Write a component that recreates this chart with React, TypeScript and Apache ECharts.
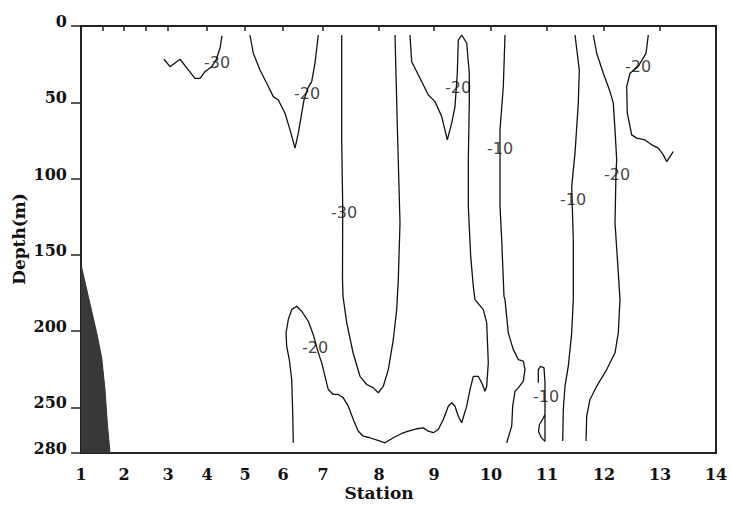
import React, { useEffect, useRef } from "react";
import * as echarts from "echarts";

// Station numbers and their along-section distance (axis units)
const stationNums = [1, 2, 3, 4, 5, 6, 7, 8, 9, 10, 11, 12, 13, 14];
const stationDist = [0, 43, 87, 126, 164, 202, 242, 298, 353, 410, 466, 523, 579, 635];
const minorTickDist = [22, 65];
const depthTicks = [0, 50, 100, 150, 200, 250, 280];

// Bottom topography (distance, depth)
const bottomProfile = [
  [0, 156.5], [7.3, 177.3], [15.7, 201.2], [20.7, 217.6], [24, 238.4], [26.3, 260.2], [29, 280],
];

// Contour lines [distance, depth]
const contourA = [
  [83, 21.8], [89, 26.7], [99, 21.8], [107.3, 28.8], [114, 34.3], [119, 34.3], [124, 29.9],
  [127.3, 28.4], [130.7, 26.7], [135, 22.3], [139, 14.6], [141, 6.5],
];
const contourB = [
  [169, 5.9], [172.3, 17.9], [179, 28.8], [185.7, 37.5], [192.3, 46.3], [197.3, 48.5], [204, 57.2],
  [209, 68.1], [214, 80.1], [217.3, 70.3], [220.7, 57.2], [223, 48.5], [227, 40.6], [230.7, 36.5],
  [234, 24.4], [237.3, 5.9],
];
const contourC = [
  [260.7, 5.9], [260.7, 74.7], [261.7, 118.3], [261.5, 166.3], [262, 177.3], [265.7, 194.5],
  [272, 214.1], [279, 229.7], [285.7, 235.1], [292.3, 237.3], [297.3, 240.5], [302.3, 236.2],
  [307.3, 225.3], [312.3, 205.6], [315.7, 186.0], [317.3, 166.3], [318.5, 140.1], [319, 129.0],
  [316.7, 74.7], [314, 5.9],
];
const contourD = [
  [329, 5.9], [330.7, 23.4], [339, 34.3], [347.3, 45.2], [354, 49.6], [360.7, 59.4], [366.3, 74.7],
  [370.7, 63.7], [374, 52.8], [376.3, 31.0], [377.3, 9.2], [380.7, 5.9], [385.7, 11.3], [388.3, 31.0],
  [388.3, 50.6], [387.3, 87.8], [387.3, 118.3], [389.7, 151.1], [392.3, 170.7], [394, 179.4],
  [402.3, 186.0], [405.7, 194.7], [407.3, 220.9], [405.7, 236.2], [404, 239.5], [400.7, 234.0],
  [397.3, 229.7], [392.3, 229.7], [389, 238.4], [385.7, 249.3], [380.7, 260.2], [377.3, 255.9],
  [374, 249.3], [370.7, 247.1], [367.3, 249.3], [362.3, 258.0], [357.3, 264.6], [352.3, 266.7],
  [347.3, 265.7], [342.3, 263.5], [335.7, 264.1], [327.3, 265.7], [320.7, 267.2], [312.3, 270.0],
  [304, 273.3], [299, 272.2], [289, 270.0], [282.3, 269.0], [277.3, 265.7], [272.3, 258.0],
  [267.3, 249.3], [262.3, 243.8], [257.3, 241.6], [252.3, 241.6], [247.3, 238.4], [244, 229.7],
  [240.7, 220.9], [237.3, 214.3], [232.3, 202.4], [227.3, 193.6], [220.7, 187.1], [215.7, 183.8],
  [210.7, 186.0], [207.3, 192.5], [205, 201.2], [205.7, 210.0], [208.3, 218.7], [210.7, 231.8],
  [211.7, 253.6], [212.3, 273.3],
];
const contourE = [
  [424, 5.9], [422.3, 39.8], [419, 68.1], [419, 83.4], [419, 118.3], [420.7, 140.1], [423, 177.3],
  [424, 179.4], [427.3, 201.2], [432.3, 212.2], [437.3, 218.7], [442.3, 219.8], [444, 225.3],
  [442.3, 232.9], [437.3, 237.3], [434, 239.5], [431.7, 249.3], [430.7, 262.4], [425.7, 273.3],
];
const contourF = [
  [457.3, 234.0], [457.3, 225.3], [459.7, 223.1], [463, 224.2], [464, 234.0], [464, 254.7],
  [464, 272.4], [460.5, 270.1], [457.5, 265.9], [458.5, 261.3], [462, 257.4], [464, 254.7],
];
const contourG = [
  [494, 5.9], [498.3, 28.8], [497.3, 50.6], [494, 83.4], [490.7, 105.2], [492.3, 140.1],
  [492.3, 179.4], [490.7, 201.2], [487.3, 223.1], [484, 236.2], [482.3, 251.5], [481.7, 272.2],
];
const contourH = [
  [512.3, 5.9], [515.7, 17.9], [522.3, 31.0], [529, 43.0], [532.3, 50.6], [534, 68.1], [535.7, 87.8],
  [535, 96.3], [534, 129.0], [537.3, 161.9], [539, 179.4], [537.3, 201.2], [534, 214.3],
  [525.7, 225.3], [515.7, 236.2], [509, 244.9], [505.7, 255.9], [505, 272.2],
];
const contourI = [
  [567.3, 5.9], [565, 17.9], [557, 26.7], [549, 31.0], [545.7, 39.8], [546.3, 57.2], [550.7, 71.4],
  [555.7, 73.5], [564, 74.7], [570.7, 77.9], [577.3, 80.1], [582.3, 84.5], [585.7, 88.9],
  [589, 85.6], [592.3, 82.3],
];
const contours = [contourA, contourB, contourC, contourD, contourE, contourF, contourG, contourH, contourI];

// Contour labels [distance, depth, text]
const contourLabels: [number, number, string][] = [
  [136, 24.2, "-30"],
  [226, 44.1, "-20"],
  [263, 122, "-30"],
  [377, 40.5, "-20"],
  [234, 210.8, "-20"],
  [419, 80.6, "-10"],
  [465, 243, "-10"],
  [492, 114, "-10"],
  [536, 97.6, "-20"],
  [557, 26.7, "-20"],
];

export default function App() {
  const ref = useRef<HTMLDivElement>(null);
  useEffect(() => {
    if (!ref.current) return;
    const chart = echarts.init(ref.current, undefined, { renderer: "svg" });
    const axisFont = { fontFamily: "DejaVu Serif", fontWeight: "bold" as const, fontSize: 16, color: "#111" };
    const lineSeries = contours.map((c) => ({
      type: "line",
      data: c,
      symbol: "none",
      smooth: false,
      lineStyle: { color: "#111", width: 1.3 },
      z: 3,
      silent: true,
    }));
    chart.setOption({
      animation: false,
      backgroundColor: "#fff",
      grid: { left: 81, right: 15, top: 26, bottom: 52, show: true, borderColor: "#222", borderWidth: 2 },
      xAxis: {
        type: "value",
        min: 0,
        max: 635,
        axisLine: { show: true, lineStyle: { color: "#222", width: 2 } },
        axisTick: {
          show: true,
          customValues: [...stationDist, ...minorTickDist],
          length: 5,
          lineStyle: { color: "#222", width: 1.5 },
        },
        axisLabel: {
          customValues: stationDist,
          margin: 13,
          ...axisFont,
          formatter: (v: number) => {
            const i = stationDist.findIndex((d) => Math.abs(d - v) < 0.01);
            return i >= 0 ? String(stationNums[i]) : "";
          },
        },
        splitLine: { show: false },
      },
      yAxis: {
        type: "value",
        inverse: true,
        min: 0,
        max: 280,
        axisLine: { show: true, lineStyle: { color: "#222", width: 2 } },
        axisTick: {
          show: true,
          inside: false,
          customValues: depthTicks,
          length: 10,
          lineStyle: { color: "#222", width: 1.5 },
        },
        axisLabel: {
          customValues: depthTicks,
          margin: 14,
          ...axisFont,
          verticalAlign: "bottom",
          lineHeight: 9,
        },
        splitLine: { show: false },
      },
      graphic: [
        {
          type: "text",
          x: 379,
          y: 493,
          style: {
            text: "Station",
            fontFamily: "DejaVu Serif",
            fontWeight: "bold",
            fontSize: 17,
            fill: "#111",
            textAlign: "center",
            textVerticalAlign: "middle",
          },
        },
        {
          type: "text",
          x: 19,
          y: 239,
          rotation: Math.PI / 2,
          style: {
            text: "Depth(m)",
            fontFamily: "DejaVu Serif",
            fontWeight: "bold",
            fontSize: 17,
            fill: "#111",
            textAlign: "center",
            textVerticalAlign: "middle",
          },
        },
      ],
      series: [
        {
          type: "line",
          data: bottomProfile,
          symbol: "none",
          lineStyle: { color: "#333", width: 1 },
          areaStyle: { color: "#383838", origin: "end", opacity: 1 },
          z: 2,
          silent: true,
        },
        ...lineSeries,
        {
          type: "scatter",
          data: contourLabels,
          symbolSize: 0,
          silent: true,
          z: 5,
          label: {
            show: true,
            position: "inside",
            formatter: (p: any) => p.data[2],
            fontFamily: "DejaVu Sans",
            fontSize: 16,
            color: "#111",
          },
        },
      ],
    });
    return () => chart.dispose();
  }, []);
  return (
    <div
      ref={ref}
      style={{ position: "absolute", left: 0, top: 0, width: 731, height: 505, background: "#fff" }}
    />
  );
}
